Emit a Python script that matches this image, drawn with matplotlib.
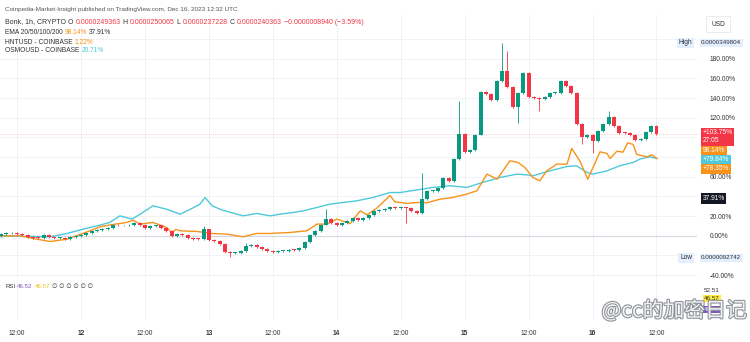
import numpy as np
import matplotlib
matplotlib.use("Agg")
import matplotlib.pyplot as plt
import matplotlib.patheffects as pe

plt.rcParams['font.family'] = ['Liberation Sans', 'DejaVu Sans', 'Noto Sans CJK SC']

# Bonk 1h candles, % change from the first bar (hour 0 = Dec 11 12:00)
first_hour = -3
bonk_close = [1.5, 2.5, 3.0, 2.0, 0.5, -1.0, -2.0, -2.5, 0.5, -1.5, -2.5, -2.0, -3.0, -1.5,
              0.0, 0.5, 3.0, 5.0, 5.5, 6.5, 7.5, 11.5, 10.5, 10.5, 11.0, 13.0, 11.0, 8.0,
              9.5, 10.5, 8.0, 5.0, 0.0, 1.5,
              0.5, -2.0, -3.0, -3.5, 6.5, -4.0, -5.5, -8.0, -16.0, -17.5, -17.0, -15.5,
              -10.5, -9.0, -11.0, -13.5, -15.0, -16.0, -15.5, -15.0, -14.0, -14.5, -12.5,
              -6.0, 0.5, 5.0, 11.5, 17.0, 13.0, 11.0, 13.5, 15.5, 18.5, 16.5, 18.0, 21.5,
              25.5, 26.0, 27.0, 29.5, 28.0, 28.5, 28.0, 25.0, 23.5, 37.0, 45.8, 46.0, 49.0,
              59.0, 56.0, 78.0, 103.5, 85.0, 87.5, 103.0, 145.8, 144.0, 138.0, 157.7, 168.0,
              151.0, 131.0, 144.8, 166.0, 141.4, 140.5, 139.5, 141.0, 145.0, 145.5, 157.5,
              152.5, 145.5, 113.5, 100.0, 103.0, 96.0, 106.8, 113.6, 121.0, 112.0, 105.0,
              104.5, 102.4, 97.5, 98.5, 106.0, 112.0, 103.8]
bonk_open0 = 0.0
# the long wicks (hour: value)
wick_high = {35: 10, 36: 7, 43: -7, 58: 27, 76: 64, 83: 137, 91: 195.6, 92: 187.5, 111: 127}
wick_low = {40: -21.6, 73: 13, 94: 115, 98: 127, 106: 93, 108: 84.7}

# HNTUSD (orange) and OSMOUSD (cyan) comparison lines
hnt_hours = [-3.2, 0.6, 3.0, 6.2, 9.4, 12.4, 15.6, 17.4, 20.6, 21.8, 23.1, 25.5, 28.1, 29.1,
             29.8, 30.6, 33.8, 36.6, 39.4, 42.4, 45.0, 47.5, 51.2, 54.4, 56.3, 58.2, 60.0,
             62.5, 64.4, 65.7, 67.5, 70.0, 70.9, 73.2, 75.6, 76.9, 79.4, 81.8, 84.4, 86.3,
             88.2, 90.1, 92.5, 94.0, 95.3, 96.8, 98.1, 99.4, 101.3, 103.2, 104.1, 105.6,
             107.1, 109.4, 110.7, 111.3, 112.6, 113.7, 114.6, 115.6, 116.3, 118.2, 119.1, 120.1]
hnt_pct = [0, 0, -2.7, -5.8, -3.4, 2.4, 9.2, 11, 13.6, 15.9, 11.9, 13.6, 8.5, 3,
           6.5, 5.1, 4.4, 2.4, 1.7, -1, 2.4, 2.4, 3.4, 5.1, 11.9, 11.9, 17,
           12.5, 25.4, 21.4, 28, 41, 34.6, 33, 34, 33.6, 37.3, 39, 42.4, 45.8,
           62.7, 57.6, 76.3, 74.6, 69.5, 59.3, 55.9, 66, 72.9, 72.9, 88.8, 76.3,
           57.6, 85.4, 83.7, 78.6, 86.1, 85, 94.6, 92.9, 82.7, 80.3, 82.4, 78.6]
osmo_hours = [-3.2, 6.2, 9.4, 12.4, 15.6, 17.4, 19.3, 21.6, 23.1, 25.5, 28.1, 29.6, 30.6,
              32.5, 34.3, 35.3, 36.6, 38.6, 41.3, 42.4, 45.0, 47.5, 49.3, 51.8, 53.7, 56.3,
              58.7, 61.2, 63.8, 66.8, 70.0, 71.9, 78.0, 81.2, 84.4, 87.4, 90.6, 93.8, 95.7,
              96.8, 100.0, 103.2, 105.0, 107.0, 108.0, 110.7, 113.1, 115.6, 116.9, 118.8, 120.0]
osmo_pct = [0, -1, 2.4, 6.8, 10.9, 13.6, 20.3, 17, 22, 30.5, 27, 24, 22,
            27, 32, 39, 30.5, 26, 22, 20.3, 22.7, 20.3, 22, 23.7, 25.4, 28.8,
            32.2, 33.9, 35.6, 39, 44, 44, 49.2, 50.9, 49.2, 54.3, 59.3, 62.7, 62,
            61, 66, 70.5, 71.2, 64.4, 62.7, 66, 71.2, 74.6, 78, 80.3, 78.6]

x_ticks = [0, 12, 24, 36, 48, 60, 72, 84, 96, 108, 120]
x_labels = ['12:00', '12', '12:00', '13', '12:00', '14', '12:00', '15', '12:00', '16', '12:00']
y_ticks = [-40, -20, 0, 20, 40, 60, 80, 100, 120, 140, 160, 180, 200]
y_shown = [-40, 0, 20, 60, 120, 140, 160, 180]

GREEN, RED = '#089981', '#f23645'
ORANGE, CYAN = '#f7931a', '#4fc8dc'
GRID = '#eef0f4'
TXT = '#333333'
FS = 4.8

W, H = 750, 342
fig = plt.figure(figsize=(W / 100, H / 100), dpi=100)
fig.patch.set_facecolor('white')

def fx(px):
    return px / W

def fy(py):
    return 1 - py / H

ax = fig.add_axes([0, fy(279), fx(697), fy(15) - fy(279)])
rsi = fig.add_axes([0, fy(320), fx(697), fy(280) - fy(320)], sharex=ax)

ax.set_xlim(-3.19, 127.6)
ax.set_ylim(-43.9, 224.5)
rsi.set_ylim(0, 100)

for a in (ax, rsi):
    for s in a.spines.values():
        s.set_visible(False)
    a.set_xticks(x_ticks)
    a.tick_params(length=0)
    a.grid(True, color=GRID, lw=0.6)
    a.set_axisbelow(True)

ax.set_yticks(y_ticks)
ax.yaxis.tick_right()
ax.set_yticklabels(['%.2f%%' % v if v in y_shown else '' for v in y_ticks])
ax.tick_params(axis='y', labelsize=FS, labelcolor=TXT, pad=9)
ax.tick_params(axis='x', labelbottom=False)
rsi.set_yticks([0, 50, 100])
rsi.set_yticklabels([])
rsi.grid(False, axis='y')
rsi.set_xticklabels(x_labels)
rsi.tick_params(axis='x', labelsize=FS, labelcolor=TXT, pad=7)
for lbl in rsi.get_xticklabels():
    if ':' not in lbl.get_text():
        lbl.set_fontweight('bold')

# zero line and last-price line
ax.axhline(0, color='#d6d9e0', lw=0.9, zorder=1)
ax.axhline(bonk_close[-1], color='#f7b9bf', lw=0.6, ls=(0, (1, 1.5)), zorder=1)

# comparison lines
ax.plot(osmo_hours, osmo_pct, color=CYAN, lw=1.0, zorder=2)
ax.plot(hnt_hours, hnt_pct, color=ORANGE, lw=1.0, zorder=3)

# candles
hours = np.arange(first_hour, first_hour + len(bonk_close))
opens = [bonk_open0] + bonk_close[:-1]
for h, o, c in zip(hours, opens, bonk_close):
    col = GREEN if c >= o else RED
    top, bot = max(o, c), min(o, c)
    hi = wick_high.get(h, top + 1.0)
    lo = wick_low.get(h, bot - 1.0)
    ax.vlines(h, lo, hi, color=col, lw=0.6, zorder=4)
    ax.bar(h, max(top - bot, 0.8), bottom=bot, width=0.75, color=col, lw=0, zorder=5)

# right-hand price scale labels
ytr = ax.get_yaxis_transform()
def tag(y, s, fc, tc='white', x=1.008, ha='left', size=FS):
    ax.text(x, y, s, transform=ytr, ha=ha, va='center', fontsize=size, color=tc,
            bbox=dict(boxstyle='square,pad=0.25', fc=fc, ec='none'), clip_on=False, zorder=10)

tag(196.3, 'High', '#e3effd', tc='#2a2e39', x=0.993, ha='right')
tag(196.3, '0.0000349804', '#e3effd', tc='#2a2e39', x=1.006, size=4.5)
tag(-22.4, 'Low', '#e3effd', tc='#2a2e39', x=0.993, ha='right')
tag(-22.4, '0.0000092742', '#e3effd', tc='#2a2e39', x=1.006, size=4.5)
tag(100.8, '+103.75%\n27:05', RED)
tag(86.5, '98.14%', ORANGE)
tag(77.3, '+79.84%', CYAN)
tag(68.2, '+78.35%', ORANGE)
tag(37.9, '37.91%', '#131722')

fig.text(fx(711), fy(24), 'USD', fontsize=FS, color=TXT, va='center',
         bbox=dict(boxstyle='square,pad=0.7', fc='white', ec='#e6e8ee', lw=0.6))

# header lines, each made of coloured chunks
renderer = fig.canvas.get_renderer()
def chunks(px, py, parts, size=4.8):
    x = fx(px)
    for s, col in parts:
        t = fig.text(x, fy(py), s, fontsize=size, color=col, va='center', ha='left')
        bb = t.get_window_extent(renderer)
        x += (bb.width + 2.0) / W

chunks(5, 9, [('Coinpedia-Market-Insight published on TradingView.com, Dec 16, 2023 12:32 UTC', '#555555')], size=4.6)
chunks(5, 22, [('Bonk, 1h, CRYPTO', TXT), ('O', TXT), ('0.0000249363', RED), ('H', TXT),
               ('0.0000250065', RED), ('L', TXT), ('0.0000237228', RED), ('C', TXT),
               ('0.0000240363', RED), ('\u22120.0000008940 (\u22123.59%)', RED)], size=5.0)
chunks(5, 32, [('EMA 20/50/100/200', TXT), ('98.14%', ORANGE), ('37.91%', TXT)])
chunks(5, 42, [('HNTUSD - COINBASE', TXT), ('1.22%', ORANGE)])
chunks(5, 51, [('OSMOUSD - COINBASE', TXT), ('20.71%', CYAN)])
chunks(5, 287, [('RSI', TXT), ('46.52', '#7e57c2'), ('46.57', '#e8c21a'),
                ('\u2205 \u2205 \u2205 \u2205 \u2205 \u2205', TXT)], size=4.4)

# RSI scale labels
fig.text(fx(704), fy(290), '52.51', fontsize=4.5, color=TXT, va='center')
fig.text(fx(704), fy(298.5), '46.57', fontsize=4.5, color=TXT, va='center',
         bbox=dict(boxstyle='square,pad=0.15', fc='#ffeb3b', ec='none'))
fig.text(fx(704), fy(309.5), '46.52', fontsize=4.5, color='white', va='center',
         bbox=dict(boxstyle='square,pad=0.15', fc='#7e57c2', ec='none'))

# watermark
fig.text(fx(747), fy(311), '@cc的加密日记', fontsize=15, color='#f2f2f2', ha='right', va='center',
         family=['Noto Sans CJK SC', 'DejaVu Sans'],
         path_effects=[pe.withStroke(linewidth=1.6, foreground='#8f939b')])

fig.savefig('out.png', dpi=100, facecolor='white')
